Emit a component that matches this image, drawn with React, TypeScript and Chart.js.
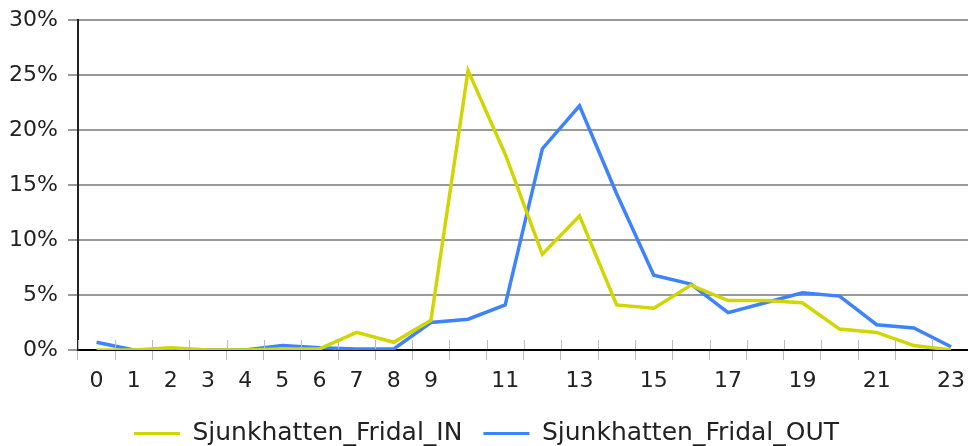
import React, { useEffect, useRef } from "react";
import { Chart, registerables } from "chart.js";

Chart.register(...registerables);

const hours = ["0","1","2","3","4","5","6","7","8","9","10","11","12","13","14","15","16","17","18","19","20","21","22","23"];
const inValues = [0, 0, 0.2, 0, 0, 0.1, 0.1, 1.6, 0.7, 2.7, 25.4, 17.8, 8.7, 12.2, 4.1, 3.8, 5.9, 4.5, 4.5, 4.3, 1.9, 1.6, 0.4, 0];
const outValues = [0.7, 0, 0, 0, 0, 0.4, 0.2, 0.1, 0.1, 2.5, 2.8, 4.1, 18.3, 22.2, 14.2, 6.8, 6.0, 3.4, 4.3, 5.2, 4.9, 2.3, 2.0, 0.3];
const seriesNames = ["Sjunkhatten_Fridal_IN", "Sjunkhatten_Fridal_OUT"];
const yTicks = [0, 5, 10, 15, 20, 25, 30];

const upTicks = {
  id: "upTicks",
  afterLayout(chart: any) {
    if (chart.legend) {
      chart.legend.top += 10;
      chart.legend.bottom += 10;
    }
  },
  afterDatasetsDraw(chart: any) {
    const x = chart.scales.x;
    const ctx = chart.ctx;
    const bottom = chart.chartArea.bottom;
    ctx.save();
    ctx.strokeStyle = "#bbb";
    ctx.lineWidth = 1;
    for (let i = 0; i <= hours.length; i++) {
      const a = i === 0 ? x.getPixelForValue(0) - (x.getPixelForValue(1) - x.getPixelForValue(0)) : x.getPixelForValue(i - 1);
      const b = x.getPixelForValue(i);
      const px = Math.round((a + b) / 2) + 0.5;
      ctx.beginPath();
      ctx.moveTo(px, bottom - 10);
      ctx.lineTo(px, bottom - 1);
      ctx.stroke();
    }
    ctx.restore();
  },
};

export default function App() {
  const ref = useRef<HTMLCanvasElement | null>(null);
  useEffect(() => {
    document.body.style.margin = "0";
    document.body.style.overflow = "hidden";
    const font = { family: "DejaVu Sans", size: 22 };
    const chart = new Chart(ref.current!, {
      type: "line",
      data: {
        labels: hours,
        datasets: [
          { label: seriesNames[0], data: inValues, borderColor: "#d2d600", backgroundColor: "#d2d600", borderWidth: 3.5, pointRadius: 0, tension: 0 },
          { label: seriesNames[1], data: outValues, borderColor: "#3d82ff", backgroundColor: "#3d82ff", borderWidth: 3.5, pointRadius: 0, tension: 0 },
        ],
      },
      plugins: [upTicks],
      options: {
        animation: false,
        responsive: false,
        layout: { padding: { top: 0, right: 0, left: 0, bottom: 0 } },
        plugins: {
          tooltip: { enabled: false },
          legend: {
            position: "bottom",
            labels: {
              font: { family: "DejaVu Sans", size: 25 },
              color: "#222",
              boxWidth: 46,
              boxHeight: 3,
              padding: 21,
              generateLabels: (c: any) =>
                c.data.datasets.map((d: any, i: number) => ({
                  text: d.label,
                  fillStyle: d.borderColor,
                  strokeStyle: d.borderColor,
                  lineWidth: 0,
                  datasetIndex: i,
                  hidden: false,
                  fontColor: "#222",
                })),
            },
          },
        },
        scales: {
          x: {
            offset: true,
            afterFit: (s: any) => { s.height = 40; },
            grid: { offset: true, display: true, drawOnChartArea: false, drawTicks: true, tickLength: 10, color: "#bbb" },
            border: { display: true, color: "#000", width: 2 },
            ticks: {
              font,
              color: "#222",
              autoSkip: false,
              maxRotation: 0,
              padding: 8,
              callback: (v: any, i: number) => (i <= 9 || i % 2 === 1 ? hours[i] : ""),
            },
          },
          y: {
            min: 0,
            max: 30,
            afterFit: (s: any) => { s.width = 78; s.paddingTop = 20; },
            afterBuildTicks: (s: any) => { s.ticks = yTicks.map((v) => ({ value: v })); },
            grid: { color: "#999", lineWidth: 2, tickLength: 10, drawTicks: true },
            border: { display: true, color: "#222", width: 2 },
            ticks: { font: { family: "DejaVu Sans", size: 22, lineHeight: 1 }, color: "#222", padding: 10, callback: (v: any) => v + "%" },
          },
        },
      },
    });
    return () => chart.destroy();
  }, []);
  return <canvas ref={ref} width={973} height={446} style={{ display: "block" }} />;
}
